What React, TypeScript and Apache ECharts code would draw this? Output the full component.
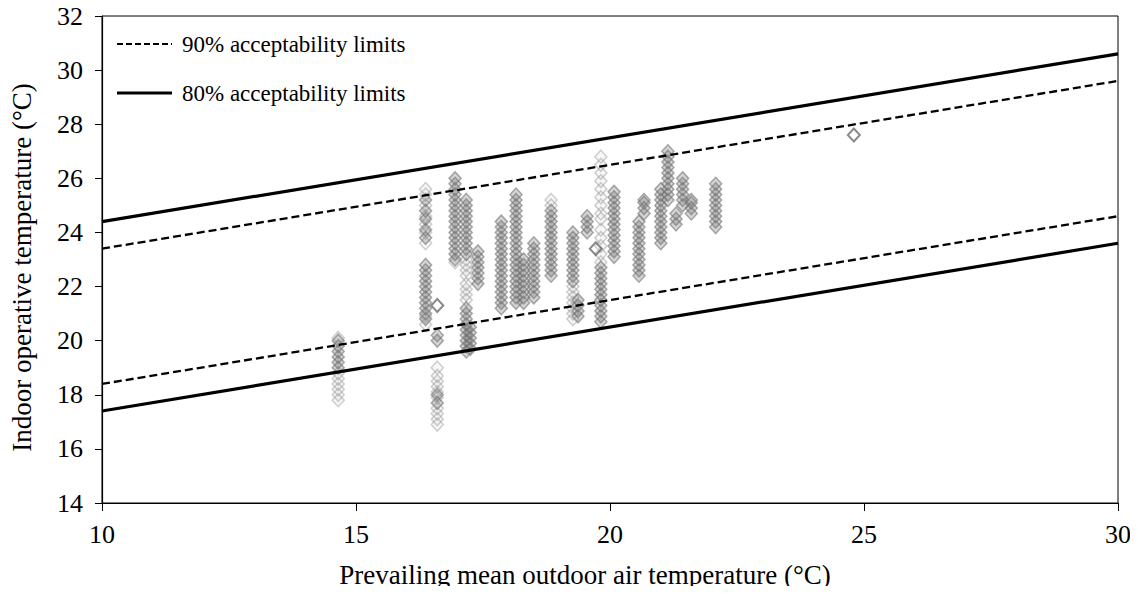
import React, { useEffect, useRef } from "react";
import * as echarts from "echarts";

// Acceptability limits (adaptive comfort model)
const limitX = [10, 30];
const upper80 = [24.4, 30.6];
const lower80 = [17.4, 23.6];
const upper90 = [23.4, 29.6];
const lower90 = [18.4, 24.6];

const xTicks = { min: 10, max: 30, interval: 5 };
const yTicks = { min: 14, max: 32, interval: 2 };

const legendLabels = ["90% acceptability limits", "80% acceptability limits"];

// Observed points, grouped in columns: [x, y values]
const midColumns: [number, number[]][] = [
  [14.65, [19.0, 19.2, 19.4, 19.6, 19.8, 20.0]],
  [16.37, [23.8, 24.1, 24.5, 24.8, 25.2]],
  [16.37, [20.8, 21.0, 21.2, 21.4, 21.6, 21.8, 22.0, 22.2, 22.4, 22.6, 22.8]],
  [16.6, [20.0, 20.2, 18.0, 17.7]],
  [16.95, [23.0, 23.2, 23.4, 23.6, 23.8, 24.0, 24.2, 24.4, 24.6, 24.8, 25.0, 25.2, 25.4, 25.6, 25.8, 26.0]],
  [17.17, [23.2, 23.4, 23.6, 23.8, 24.0, 24.2, 24.4, 24.6, 24.8, 25.0, 25.2]],
  [17.17, [19.6, 19.8, 20.0, 20.2, 20.4, 20.6, 20.8, 21.0, 21.2]],
  [17.25, [19.7, 19.9, 20.1, 20.3, 20.5]],
  [17.4, [22.1, 22.3, 22.5, 22.7, 22.9, 23.1, 23.3]],
  [17.86, [21.2, 21.4, 21.6, 21.8, 22.0, 22.2, 22.4, 22.6, 22.8, 23.0, 23.2, 23.4, 23.6, 23.8, 24.0, 24.2, 24.4]],
  [18.15, [21.4, 21.6, 21.8, 22.0, 22.2, 22.4, 22.6, 22.8, 23.0, 23.2, 23.4, 23.6, 23.8, 24.0, 24.2, 24.4, 24.6, 24.8, 25.0, 25.2, 25.4]],
  [18.3, [21.4, 21.6, 21.8, 22.0, 22.2, 22.4, 22.6, 22.8, 23.0]],
  [18.5, [21.6, 21.8, 22.0, 22.2, 22.4, 22.6, 22.8, 23.0, 23.2, 23.4, 23.6]],
  [18.84, [22.4, 22.6, 22.8, 23.0, 23.2, 23.4, 23.6, 23.8, 24.0, 24.2, 24.4, 24.6, 24.8]],
  [19.27, [22.2, 22.4, 22.6, 22.8, 23.0, 23.2, 23.4, 23.6, 23.8, 24.0]],
  [19.37, [20.9, 21.1, 21.3, 21.5]],
  [19.55, [24.0, 24.2, 24.4, 24.6]],
  [19.82, [20.7, 20.9, 21.1, 21.3, 21.5, 21.7, 21.9, 22.1, 22.3, 22.5, 22.7]],
  [20.08, [23.1, 23.3, 23.5, 23.7, 23.9, 24.1, 24.3, 24.5, 24.7, 24.9, 25.1, 25.3, 25.5]],
  [20.57, [22.4, 22.6, 22.8, 23.0, 23.2, 23.4, 23.6, 23.8, 24.0, 24.2, 24.4]],
  [20.67, [24.7, 24.9, 25.1, 25.2]],
  [21.0, [23.6, 23.8, 24.0, 24.2, 24.4, 24.6, 24.8, 25.0, 25.2, 25.4, 25.6]],
  [21.14, [25.2, 25.4, 25.6, 25.8, 26.0, 26.2, 26.4, 26.6, 26.8, 27.0]],
  [21.3, [24.3, 24.5, 24.7]],
  [21.43, [25.0, 25.2, 25.4, 25.6, 25.8, 26.0]],
  [21.6, [24.7, 24.9, 25.1, 25.2]],
  [22.08, [24.2, 24.4, 24.6, 24.8, 25.0, 25.2, 25.4, 25.6, 25.8]],
];

const lightColumns: [number, number[]][] = [
  [14.65, [17.8, 18.0, 18.2, 18.4, 18.6, 18.8, 20.1]],
  [16.37, [23.6, 24.0, 24.3, 24.6, 25.0, 25.4, 25.6]],
  [16.37, [20.6, 20.9]],
  [16.6, [19.0, 18.7, 18.5, 18.3, 18.1, 17.9, 17.5, 17.3, 17.1, 16.9]],
  [16.95, [22.9]],
  [17.17, [22.4, 22.6, 22.8, 23.0, 21.5, 21.7, 21.9, 22.1]],
  [18.84, [25.0, 25.2]],
  [19.27, [20.8, 21.0, 21.2, 21.4, 21.6, 21.8, 22.0]],
  [19.82, [24.7, 25.0, 25.3, 25.6, 25.9, 26.2, 26.5, 26.8]],
  [19.82, [22.9, 23.2, 23.5, 23.8, 24.1, 24.5]],
];

const darkPoints: [number, number][] = [
  [16.6, 21.3],
  [19.72, 23.4],
  [24.8, 27.6],
];

const toPoints = (cols: [number, number[]][]) =>
  cols.flatMap(([x, ys]) => ys.map((y) => [x, y]));

const FONT = "Liberation Serif";

export default function App() {
  const ref = useRef<HTMLDivElement>(null);

  useEffect(() => {
    if (!ref.current) return;
    const chart = echarts.init(ref.current, undefined, { renderer: "svg" });
    const diamond = {
      type: "scatter" as const,
      symbol: "diamond",
      symbolSize: [12, 13],
      silent: true,
    };
    chart.setOption({
      animation: false,
      textStyle: { fontFamily: FONT },
      grid: {
        left: 100,
        right: 20,
        top: 16,
        bottom: 91,
        show: true,
        borderColor: "#000",
        borderWidth: 1,
        containLabel: false,
      },
      graphic: [
        {
          type: "line",
          shape: { x1: 117, y1: 44, x2: 172, y2: 44 },
          style: { stroke: "#000", lineWidth: 2, lineDash: [6, 3] },
        },
        {
          type: "text",
          x: 182,
          y: 44,
          style: { text: legendLabels[0], fontSize: 23, fontFamily: FONT, fill: "#000", verticalAlign: "middle" },
        },
        {
          type: "line",
          shape: { x1: 117, y1: 93, x2: 172, y2: 93 },
          style: { stroke: "#000", lineWidth: 3 },
        },
        {
          type: "text",
          x: 182,
          y: 93,
          style: { text: legendLabels[1], fontSize: 23, fontFamily: FONT, fill: "#000", verticalAlign: "middle" },
        },
      ],
      xAxis: {
        type: "value",
        min: xTicks.min,
        max: xTicks.max,
        interval: xTicks.interval,
        name: "Prevailing mean outdoor air temperature (°C)",
        nameLocation: "middle",
        nameGap: 58,
        nameTextStyle: { fontFamily: FONT, fontSize: 27, color: "#000", padding: [0, 50, 0, 0] },
        axisLine: { lineStyle: { color: "#000", width: 1.2 } },
        axisTick: { show: true, length: 8, lineStyle: { color: "#000" } },
        axisLabel: { fontFamily: FONT, fontSize: 26, color: "#000", margin: 18 },
        splitLine: { show: false },
      },
      yAxis: {
        type: "value",
        min: yTicks.min,
        max: yTicks.max,
        interval: yTicks.interval,
        name: "Indoor operative temperature (°C)",
        nameLocation: "middle",
        nameGap: 67,
        nameTextStyle: { fontFamily: FONT, fontSize: 27, color: "#000", padding: [0, 16, 0, 0] },
        axisLine: { lineStyle: { color: "#000", width: 1.2 } },
        axisTick: { show: true, length: 7, lineStyle: { color: "#000" } },
        axisLabel: { fontFamily: FONT, fontSize: 26, color: "#000", margin: 19 },
        splitLine: { show: false },
      },
      series: [
        {
          ...diamond,
          name: "light",
          data: toPoints(lightColumns),
          itemStyle: { color: "rgba(190,190,190,0.15)", borderColor: "rgba(155,155,155,0.6)", borderWidth: 1.5 },
        },
        {
          ...diamond,
          name: "mid",
          data: toPoints(midColumns),
          itemStyle: { color: "rgba(125,125,125,0.4)", borderColor: "rgba(115,115,115,0.75)", borderWidth: 1.5 },
        },
        {
          ...diamond,
          name: "dark",
          data: darkPoints,
          itemStyle: { color: "rgba(255,255,255,0)", borderColor: "rgba(100,100,100,0.95)", borderWidth: 2 },
        },
        {
          type: "line",
          name: legendLabels[0],
          data: limitX.map((x, i) => [x, upper90[i]]),
          symbol: "none",
          lineStyle: { color: "#000", width: 2.3, type: [8, 4] },
        },
        {
          type: "line",
          name: legendLabels[0],
          data: limitX.map((x, i) => [x, lower90[i]]),
          symbol: "none",
          lineStyle: { color: "#000", width: 2.3, type: [8, 4] },
        },
        {
          type: "line",
          name: legendLabels[1],
          data: limitX.map((x, i) => [x, upper80[i]]),
          symbol: "none",
          lineStyle: { color: "#000", width: 3.2 },
        },
        {
          type: "line",
          name: legendLabels[1],
          data: limitX.map((x, i) => [x, lower80[i]]),
          symbol: "none",
          lineStyle: { color: "#000", width: 3.2 },
        },
      ],
    });
    return () => chart.dispose();
  }, []);

  return <div ref={ref} style={{ width: 1138, height: 594, margin: -8 }} />;
}
